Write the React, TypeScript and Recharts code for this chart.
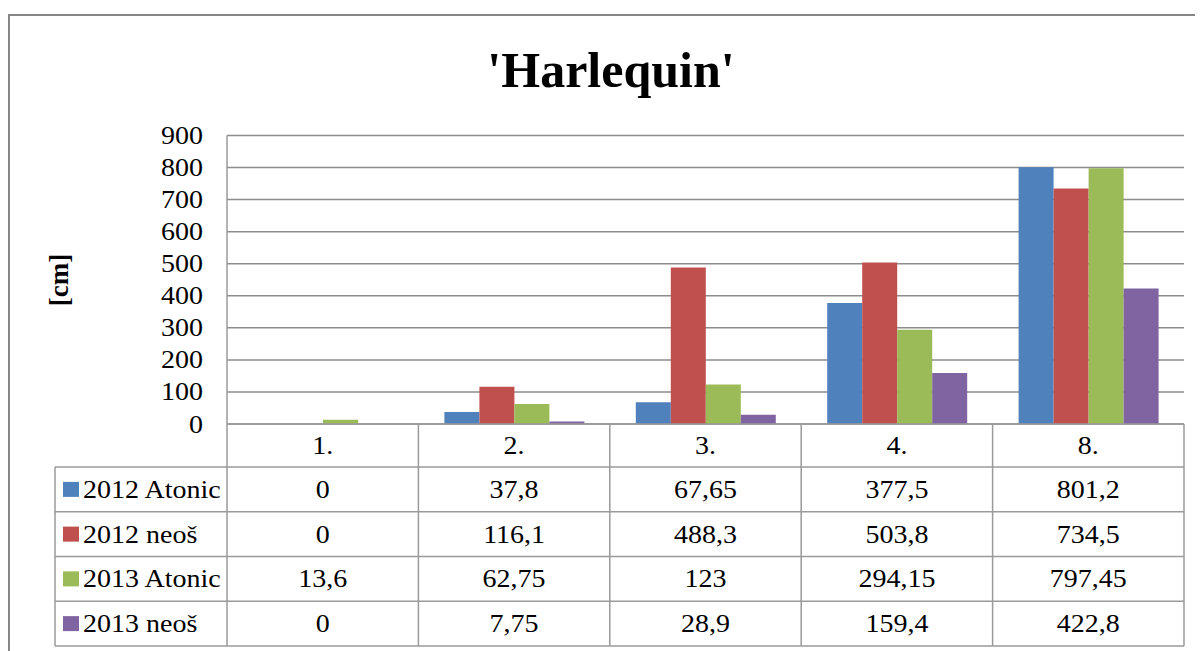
import React from 'react';
import { BarChart, Bar, XAxis, YAxis, CartesianGrid } from 'recharts';

const categories = ['1.', '2.', '3.', '4.', '8.'];
const atonic2012 = [0, 37.8, 67.65, 377.5, 801.2];
const neos2012 = [0, 116.1, 488.3, 503.8, 734.5];
const atonic2013 = [13.6, 62.75, 123, 294.15, 797.45];
const neos2013 = [0, 7.75, 28.9, 159.4, 422.8];
const yTicks = [0, 100, 200, 300, 400, 500, 600, 700, 800, 900];

const series = [
  { key: 'a12', name: '2012 Atonic', color: '#4F81BD', values: atonic2012 },
  { key: 'n12', name: '2012 neoš', color: '#C0504D', values: neos2012 },
  { key: 'a13', name: '2013 Atonic', color: '#9BBB59', values: atonic2013 },
  { key: 'n13', name: '2013 neoš', color: '#8064A2', values: neos2013 },
];

const data = categories.map((cat, i) => {
  const row: any = { cat };
  series.forEach(s => { row[s.key] = s.values[i]; });
  return row;
});

const W = 1195;
const H = 643;
const FONT = "'Liberation Serif', 'Times New Roman', serif";
const LINE = '#9a9a9a';

// plot geometry (inside the chart svg)
const PLOT_LEFT = 219;
const PLOT_RIGHT = 1176;
const PLOT_TOP = 127.5;
const PLOT_BOTTOM = 416;
const COL_W = (PLOT_RIGHT - PLOT_LEFT) / categories.length;
const LEGEND_LEFT = 47;
const ROWS = [416, 459, 503.75, 548.5, 593.25, 638];

const fmt = (v: number) => String(v).replace('.', ',');

const Txt = ({ x, y, anchor = 'middle', children }: any) => (
  <text
    transform={`translate(${x},${y}) scale(1.12,1)`}
    textAnchor={anchor}
    fill="#000"
    style={{ fontFamily: FONT, fontSize: 25 }}
  >
    {children}
  </text>
);

const YTick = (props: any) => {
  const { y, payload } = props;
  return <Txt x={PLOT_LEFT - 24} y={y + 8.5} anchor="end">{payload.value}</Txt>;
};

const ColumnTick = (props: any) => {
  const { x, index } = props;
  const left = x - COL_W / 2;
  const right = x + COL_W / 2;
  const mid = (a: number, b: number) => (a + b) / 2 + 8.5;
  return (
    <g>
      {index === 0 && (
        <g>
          <line x1={left} x2={left} y1={ROWS[0]} y2={ROWS[5]} stroke={LINE} strokeWidth={1.5} />
          <line x1={LEGEND_LEFT} x2={LEGEND_LEFT} y1={ROWS[1]} y2={ROWS[5]} stroke={LINE} strokeWidth={1.5} />
          {ROWS.slice(1).map(r => (
            <line key={r} x1={LEGEND_LEFT} x2={left} y1={r} y2={r} stroke={LINE} strokeWidth={1.5} />
          ))}
          {series.map((s, i) => (
            <g key={s.key}>
              <rect x={LEGEND_LEFT + 8} y={(ROWS[i + 1] + ROWS[i + 2]) / 2 - 7.5} width={16} height={15} fill={s.color} />
              <Txt x={LEGEND_LEFT + 28} y={mid(ROWS[i + 1], ROWS[i + 2])} anchor="start">{s.name}</Txt>
            </g>
          ))}
        </g>
      )}
      <line x1={right} x2={right} y1={ROWS[0]} y2={ROWS[5]} stroke={LINE} strokeWidth={1.5} />
      {ROWS.slice(1).map(r => (
        <line key={r} x1={left} x2={right} y1={r} y2={r} stroke={LINE} strokeWidth={1.5} />
      ))}
      <Txt x={x} y={mid(ROWS[0], ROWS[1])}>{categories[index]}</Txt>
      {series.map((s, i) => (
        <Txt key={s.key} x={x} y={mid(ROWS[i + 1], ROWS[i + 2])}>{fmt(s.values[index])}</Txt>
      ))}
    </g>
  );
};

export default function App() {
  return (
    <div style={{ position: 'relative', width: W, height: H, overflow: 'hidden', fontFamily: FONT, background: '#fff' }}>
      <div
        style={{
          position: 'absolute', left: 0, top: 6, width: 1230, height: 720,
          border: '2px solid #868686', boxSizing: 'border-box',
        }}
      />
      <div style={{ position: 'absolute', left: 0, top: 0 }}>
        <BarChart
          width={W}
          height={H}
          data={data}
          margin={{ top: PLOT_TOP, right: W - PLOT_RIGHT, bottom: H - PLOT_BOTTOM - 222, left: 0 }}
          barCategoryGap={26}
          barGap={0}
        >
          <CartesianGrid vertical={false} stroke="#8c8c8c" strokeWidth={1.5} />
          <XAxis
            dataKey="cat"
            interval={0}
            height={222}
            tickLine={false}
            tickSize={0}
            axisLine={{ stroke: LINE, strokeWidth: 1.5 }}
            tick={(p: any) => <ColumnTick {...p} />}
          />
          <YAxis
            width={PLOT_LEFT}
            domain={[0, 900]}
            ticks={yTicks}
            tickLine={false}
            tickSize={0}
            axisLine={{ stroke: LINE, strokeWidth: 1.5 }}
            tick={(p: any) => <YTick {...p} />}
          />
          {series.map(s => (
            <Bar key={s.key} dataKey={s.key} name={s.name} fill={s.color} isAnimationActive={false} />
          ))}
        </BarChart>
      </div>
      <svg width={W} height={H} style={{ position: 'absolute', left: 0, top: 0, pointerEvents: 'none' }}>
        <text x={603} y={79} textAnchor="middle" fill="#000" style={{ fontFamily: FONT, fontSize: 50, fontWeight: 'bold' }}>
          'Harlequin'
        </text>
        <text transform="translate(60,272) rotate(-90)" textAnchor="middle" fill="#000" style={{ fontFamily: FONT, fontSize: 27, fontWeight: 'bold' }}>
          [cm]
        </text>
      </svg>
    </div>
  );
}
